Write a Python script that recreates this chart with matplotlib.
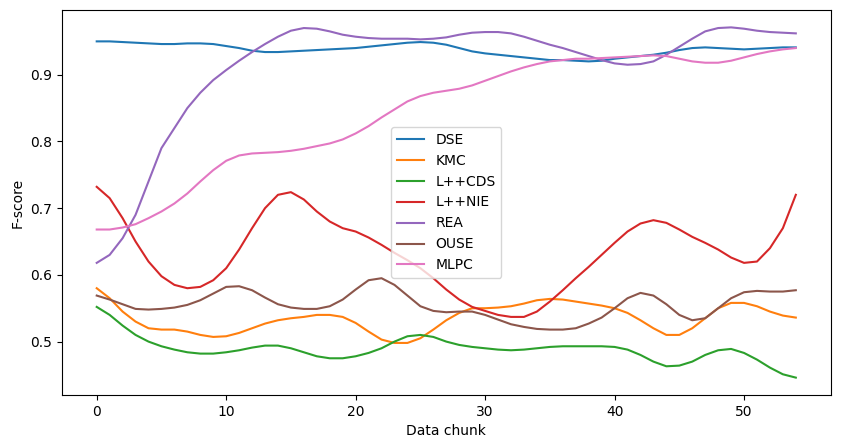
import matplotlib
matplotlib.use("Agg")
import matplotlib.pyplot as plt

dse = [0.950, 0.950, 0.949, 0.948, 0.947, 0.946, 0.946, 0.947, 0.947, 0.946,
       0.943, 0.940, 0.936, 0.934, 0.934, 0.935, 0.936, 0.937, 0.938, 0.939,
       0.940, 0.942, 0.944, 0.946, 0.948, 0.949, 0.948, 0.945, 0.940, 0.935,
       0.932, 0.930, 0.928, 0.926, 0.924, 0.922, 0.922, 0.921, 0.920, 0.921,
       0.924, 0.926, 0.928, 0.930, 0.933, 0.937, 0.940, 0.941, 0.940, 0.939,
       0.938, 0.939, 0.940, 0.941, 0.941]
kmc = [0.580, 0.565, 0.545, 0.530, 0.520, 0.518, 0.518, 0.515, 0.510, 0.507,
       0.508, 0.513, 0.520, 0.527, 0.532, 0.535, 0.537, 0.540, 0.540, 0.537,
       0.528, 0.515, 0.503, 0.498, 0.498, 0.505, 0.518, 0.532, 0.543, 0.550,
       0.550, 0.551, 0.553, 0.557, 0.562, 0.564, 0.563, 0.560, 0.557, 0.554,
       0.550, 0.543, 0.532, 0.520, 0.510, 0.510, 0.520, 0.535, 0.550, 0.558,
       0.558, 0.553, 0.545, 0.539, 0.536]
lcds = [0.552, 0.540, 0.524, 0.510, 0.500, 0.493, 0.488, 0.484, 0.482, 0.482,
        0.484, 0.487, 0.491, 0.494, 0.494, 0.490, 0.484, 0.478, 0.475, 0.475,
        0.478, 0.483, 0.490, 0.500, 0.508, 0.510, 0.507, 0.500, 0.495, 0.492,
        0.490, 0.488, 0.487, 0.488, 0.490, 0.492, 0.493, 0.493, 0.493, 0.493,
        0.492, 0.488, 0.480, 0.470, 0.463, 0.464, 0.470, 0.480, 0.487, 0.489,
        0.483, 0.473, 0.461, 0.451, 0.446]
lnie = [0.732, 0.715, 0.685, 0.650, 0.620, 0.598, 0.585, 0.580, 0.582, 0.592,
        0.610, 0.638, 0.670, 0.700, 0.720, 0.724, 0.713, 0.695, 0.680, 0.670,
        0.665, 0.656, 0.645, 0.633, 0.622, 0.610, 0.595, 0.578, 0.563, 0.552,
        0.546, 0.540, 0.537, 0.537, 0.545, 0.560, 0.577, 0.595, 0.612, 0.630,
        0.648, 0.665, 0.677, 0.682, 0.678, 0.668, 0.657, 0.648, 0.638, 0.626,
        0.618, 0.620, 0.640, 0.670, 0.720]
rea = [0.618, 0.630, 0.655, 0.690, 0.740, 0.790, 0.820, 0.850, 0.873, 0.892,
       0.907, 0.921, 0.934, 0.946, 0.957, 0.966, 0.970, 0.969, 0.965, 0.960,
       0.957, 0.955, 0.954, 0.954, 0.954, 0.953, 0.954, 0.956, 0.960, 0.963,
       0.964, 0.964, 0.962, 0.957, 0.951, 0.945, 0.940, 0.934, 0.928, 0.922,
       0.917, 0.915, 0.916, 0.920, 0.930, 0.942, 0.954, 0.965, 0.970, 0.971,
       0.969, 0.966, 0.964, 0.963, 0.962]
ouse = [0.569, 0.563, 0.556, 0.549, 0.548, 0.549, 0.551, 0.555, 0.562, 0.572,
        0.582, 0.583, 0.577, 0.566, 0.556, 0.551, 0.549, 0.549, 0.553, 0.563,
        0.578, 0.592, 0.595, 0.585, 0.569, 0.553, 0.546, 0.544, 0.545, 0.545,
        0.540, 0.533, 0.526, 0.522, 0.519, 0.518, 0.518, 0.520, 0.527, 0.536,
        0.550, 0.565, 0.573, 0.569, 0.556, 0.540, 0.532, 0.535, 0.550, 0.565,
        0.574, 0.576, 0.575, 0.575, 0.577]
mlpc = [0.668, 0.668, 0.671, 0.676, 0.685, 0.695, 0.707, 0.722, 0.740, 0.757,
        0.771, 0.779, 0.782, 0.783, 0.784, 0.786, 0.789, 0.793, 0.797, 0.803,
        0.812, 0.823, 0.836, 0.848, 0.860, 0.868, 0.873, 0.876, 0.879, 0.884,
        0.891, 0.898, 0.905, 0.911, 0.916, 0.920, 0.922, 0.924, 0.924, 0.925,
        0.926, 0.927, 0.928, 0.929, 0.928, 0.924, 0.920, 0.918, 0.918, 0.921,
        0.926, 0.931, 0.935, 0.938, 0.940]

series = [("DSE", dse), ("KMC", kmc), ("L++CDS", lcds), ("L++NIE", lnie),
          ("REA", rea), ("OUSE", ouse), ("MLPC", mlpc)]

fig, ax = plt.subplots(figsize=(8.46, 4.48), dpi=100)
for name, vals in series:
    ax.plot(range(len(vals)), vals, label=name)
ax.set_xlabel('Data chunk')
ax.set_ylabel('F-score')
ax.legend(loc='center')
plt.subplots_adjust(left=0.073, right=0.982, top=0.978, bottom=0.118)
plt.savefig('out.png', dpi=100)
